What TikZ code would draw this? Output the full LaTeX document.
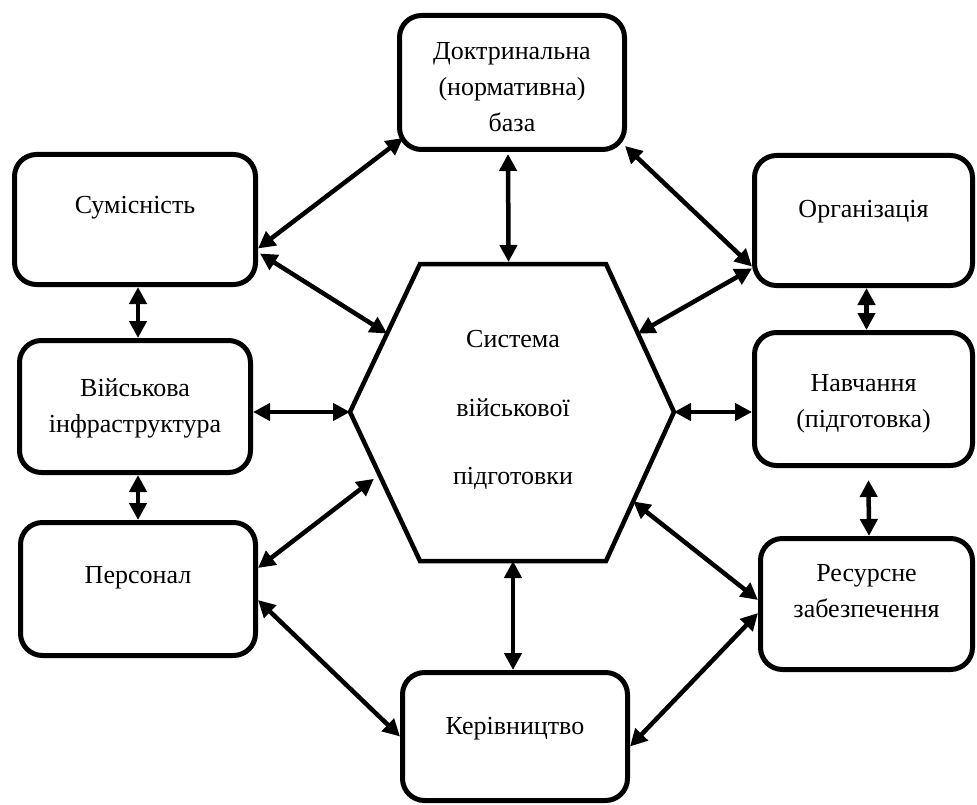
\documentclass[tikz,border=0pt]{standalone}
\usepackage{fontspec}
\setmainfont{Liberation Serif}
\usetikzlibrary{arrows.meta,calc}
\begin{document}
\begin{tikzpicture}[x=1pt,y=-1pt,>={Triangle[length=17pt,width=17pt]},
    box/.style={draw,line width=5pt,rounded corners=22pt,inner sep=0pt},
    lbl/.style={align=center,font=\fontsize{26}{36}\selectfont},
    link/.style={<->,line width=4.5pt}]
    \useasboundingbox (0,0) rectangle (977,805);
    % blocks round the centre
    \node[box,minimum width=225pt,minimum height=134pt] (dokt) at (512,82.5) {};
    \node[box,minimum width=241pt,minimum height=130pt] (sum) at (135,219.5) {};
    \node[box,minimum width=231pt,minimum height=132pt] (vijs) at (135,406.5) {};
    \node[box,minimum width=235pt,minimum height=133pt] (pers) at (138,589) {};
    \node[box,minimum width=225pt,minimum height=128pt] (ker) at (515,736.5) {};
    \node[box,minimum width=218pt,minimum height=130pt] (org) at (863.5,220.5) {};
    \node[box,minimum width=218pt,minimum height=133pt] (navch) at (863.5,399) {};
    \node[box,minimum width=212pt,minimum height=131pt] (res) at (866.5,604) {};
    \node[lbl] (doktL) at ([yshift=-5pt]dokt.center) {Доктринальна\\(нормативна)\\база};
    \node[lbl] (sumL) at ([yshift=12pt]sum.center) {Сумісність};
    \node[lbl] (vijsL) at ([yshift=-2pt]vijs.center) {Військова\\інфраструктура};
    \node[lbl] (persL) at ([yshift=11pt]pers.center) {Персонал};
    \node[lbl] (kerL) at ([yshift=8pt]ker.center) {Керівництво};
    \node[lbl] (orgL) at ([yshift=9pt]org.center) {Організація};
    \node[lbl] (navchL) at ([yshift=-5pt]navch.center) {Навчання\\(підготовка)};
    \node[lbl] (resL) at ([yshift=13pt]res.center) {Ресурсне\\забезпечення};
    % hexagon
    \coordinate (hTL) at (420,264);
    \coordinate (hTR) at (606,264);
    \coordinate (hR) at (674,412);
    \coordinate (hBR) at (606,561);
    \coordinate (hBL) at (420,561);
    \coordinate (hL) at (350,412);
    \draw[line width=4.5pt] (hTL) -- (hTR) -- (hR) -- (hBR) -- (hBL) -- (hL) -- cycle;
    \node[lbl,font=\fontsize{26}{68.5}\selectfont] (hex) at (513,410) {Система\\військової\\підготовки};
    % links
    \draw[link] ($(sum.east)+(0,29)$) -- ($(dokt.south west)+(6,-14)$);
    \draw[link] ($(sum.east)+(2,34)$) -- ($(hTL)!0.47!(hL)$);
    \draw[link] ($(dokt.south)+(-4,2)$) -- ($(hTL)!0.476!(hTR)+(0,-2)$);
    \draw[link] ($(dokt.south east)+(-2,-6)$) -- ($(org.west)+(0,46)$);
    \draw[link] ($(org.west)+(0,48)$) -- ($(hTR)!0.47!(hR)$);
    \draw[link] ($(org.south)+(3,0)$) -- ($(navch.north)+(3,0)$);
    \draw[link] (hR) -- (navch.west |- hR);
    \draw[link] ($(navch.south)+(5,12)$) -- ($(res.north)+(2.5,0)$);
    \draw[link] ($(res.west)+(0,-4)$) -- ($(hR)!0.6!(hBR)$);
    \draw[link] ($(res.west)+(0,9)$) -- ($(ker.east)+(0,10)$);
    \draw[link] ($(hBL)!0.5!(hBR)$) -- ($(ker.north)+(-2,0)$);
    \draw[link] ($(pers.east)+(0,11)$) -- (ker.west);
    \draw[link,shorten >=7pt] ($(pers.east)+(0,-21)$) -- ($(hL)!0.42!(hBL)$);
    \draw[link] (pers.north |- vijs.south) -- (pers.north);
    \draw[link] (vijs.east |- hL) -- (hL);
    \draw[link] ($(sum.south)+(3,0)$) -- ($(vijs.north)+(3,0)$);
\end{tikzpicture}
\end{document}
